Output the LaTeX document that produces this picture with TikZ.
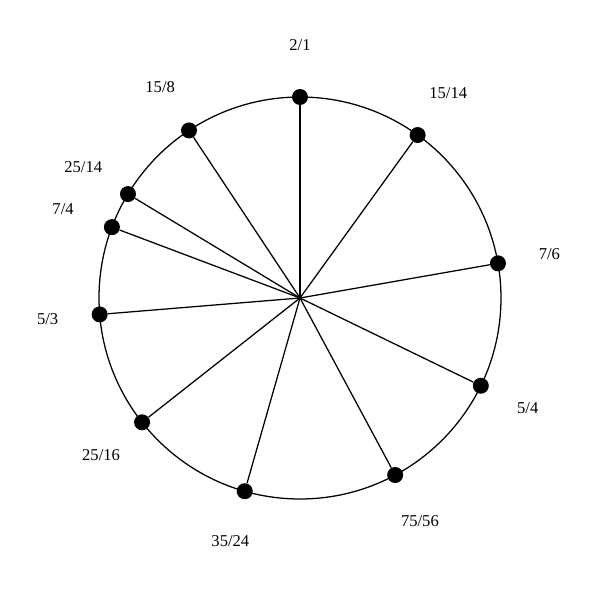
\documentclass[tikz,border=0pt]{standalone}
\usepackage{fontspec}
\setmainfont{Liberation Serif}
\usepackage{tikz}
\usetikzlibrary{positioning}

\tikzset{
  tone/.style={circle, fill=black, inner sep=0pt, minimum size=0.4cm},
  ratio/.style={font=\fontsize{11.8}{13}\selectfont, inner sep=1pt}
}

\begin{document}
\begin{tikzpicture}[]
\useasboundingbox (-7.5,-7.55) rectangle (7.5,7.45);
% circle
\node (O) at (0, 0) {};
\draw [line width=0.9pt] (0,0) circle (5.025);

% nodes
\node [tone] (A) at (90:5.025) {};
\node [tone] (B) at (54.17:5.025) {};
\node [tone] (C) at (9.94:5.025) {};
\node [tone] (D) at (-25.89:5.025) {};
\node [tone] (E) at (-61.73:5.025) {};
\node [tone] (F) at (-105.96:5.025) {};
\node [tone] (G) at (-141.79:5.025) {};
\node [tone] (H) at (-175.31:5.025) {};
\node [tone] (I) at (159.35:5.025) {};
\node [tone] (J) at (148.86:5.025) {};
\node [tone] (K) at (123.52:5.025) {};

% labels
\node [ratio] (lA) at (90:6.33) {2/1};
\node [ratio] (lB) at (54.17:6.33) {15/14};
\node [ratio] (lC) at (9.94:6.33) {7/6};
\node [ratio] (lD) at (-25.89:6.33) {5/4};
\node [ratio] (lE) at (-61.73:6.33) {75/56};
\node [ratio] (lF) at (-105.96:6.33) {35/24};
\node [ratio] (lG) at (-141.79:6.33) {25/16};
\node [ratio] (lH) at (-175.31:6.33) {5/3};
\node [ratio] (lI) at (159.35:6.33) {7/4};
\node [ratio] (lJ) at (148.86:6.33) {25/14};
\node [ratio] (lK) at (123.52:6.33) {15/8};

% spokes
\draw [line width=0.9pt] (O.center) -- (A);
\draw [line width=0.9pt] (O.center) -- (B);
\draw [line width=0.9pt] (O.center) -- (C);
\draw [line width=0.9pt] (O.center) -- (D);
\draw [line width=0.9pt] (O.center) -- (E);
\draw [line width=0.9pt] (O.center) -- (F);
\draw [line width=0.9pt] (O.center) -- (G);
\draw [line width=0.9pt] (O.center) -- (H);
\draw [line width=0.9pt] (O.center) -- (I);
\draw [line width=0.9pt] (O.center) -- (J);
\draw [line width=0.9pt] (O.center) -- (K);
\end{tikzpicture}
\end{document}
